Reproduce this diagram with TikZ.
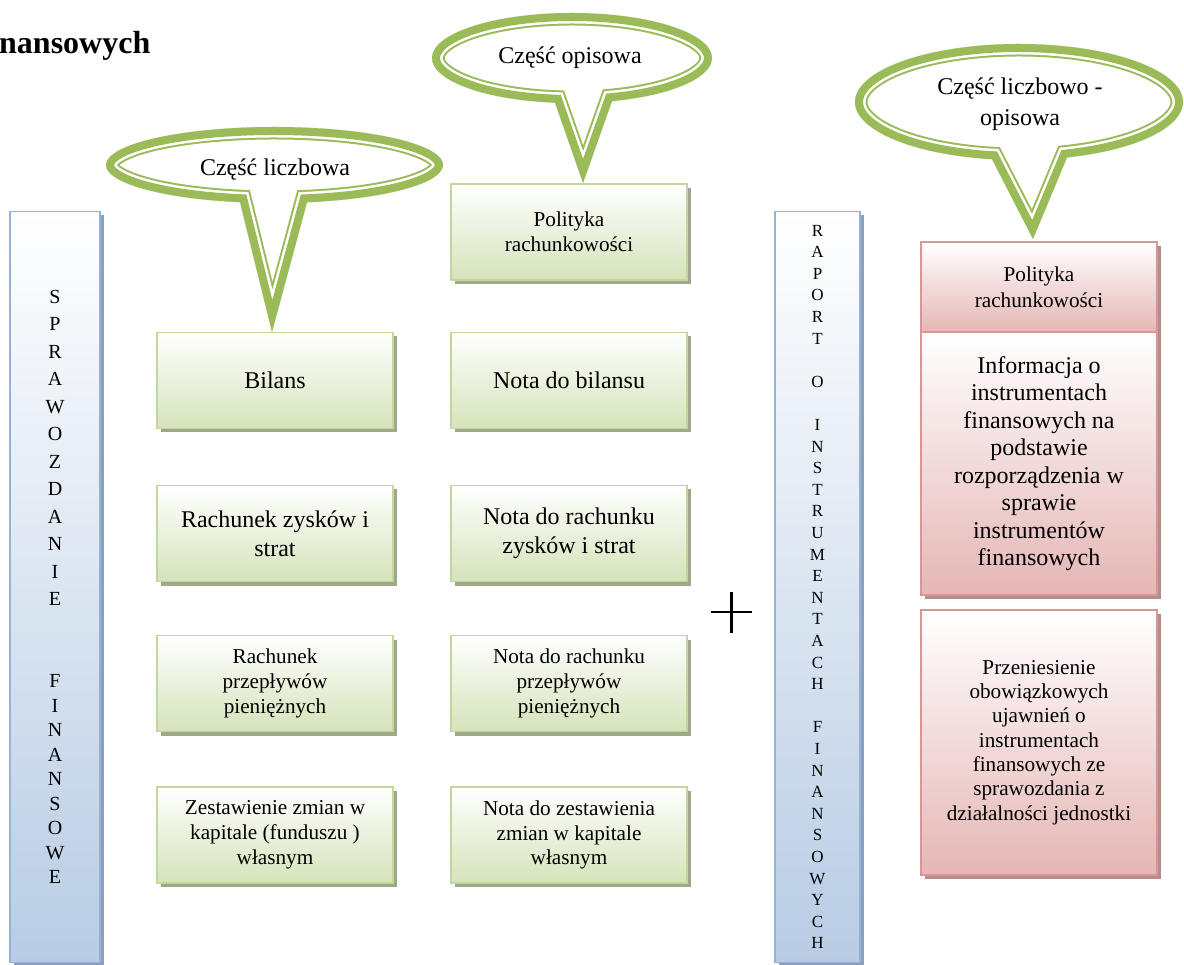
\documentclass[tikz,border=0pt]{standalone}
\usepackage{fontspec}
\setmainfont{Liberation Serif}
\usetikzlibrary{shadows}
\definecolor{cgreen}{RGB}{155,187,89}
\definecolor{gborder}{RGB}{195,214,155}
\definecolor{gbottom}{RGB}{213,227,186}
\definecolor{gshadow}{RGB}{160,168,140}
\definecolor{rborder}{RGB}{217,150,148}
\definecolor{rbottom}{RGB}{229,182,181}
\definecolor{rshadow}{RGB}{178,143,143}
\definecolor{bborder}{RGB}{149,179,215}
\definecolor{bbottom}{RGB}{184,204,228}
\definecolor{bshadow}{RGB}{140,160,190}
\newcommand\mycallout[8]{%
  \pgfmathsetmacro\cta{acos((#5-#1)/#3)}%
  \pgfmathsetmacro\ctb{acos((#6-#1)/#3)+360}%
  \def\cpath{(#1,#2) ++(\cta:#3 and #4) arc[start angle=\cta, end angle=\ctb, x radius=#3, y radius=#4] -- (#7,#8) -- cycle}%
  \fill[white] \cpath;
  \begin{scope}
    \clip \cpath;
    \draw[cgreen, line width=25pt, line join=miter] \cpath;
    \draw[white, line width=21pt, line join=miter] \cpath;
    \draw[cgreen, line width=16pt, line join=miter] \cpath;
  \end{scope}
}
\tikzset{
  box/.style={rectangle, line width=1.5pt, inner sep=0pt, align=center,
    minimum width=236pt},
  gbox/.style={box, draw=gborder, top color=white, bottom color=gbottom,
    minimum height=96pt,
    drop shadow={shadow xshift=4pt, shadow yshift=-4pt, fill=gshadow, opacity=1}},
  rbox/.style={box, draw=rborder, top color=white, bottom color=rbottom,
    drop shadow={shadow xshift=4pt, shadow yshift=-4pt, fill=rshadow, opacity=1}},
  bbar/.style={rectangle, line width=1.5pt, inner sep=0pt, align=center,
    draw=bborder, top color=white, bottom color=bbottom, minimum height=751pt,
    drop shadow={shadow xshift=4pt, shadow yshift=-4pt, fill=bshadow, opacity=1}},
  big/.style={font=\fontsize{24}{29}\selectfont},
  small/.style={font=\fontsize{21.2}{25}\selectfont},
  ctext/.style={align=center, inner sep=0pt, font=\fontsize{24}{31.5}\selectfont},
}
\begin{document}
\begin{tikzpicture}[x=1pt, y=-1pt]
\useasboundingbox (0,0) rectangle (1184,965);
\fill[white] (0,0) rectangle (1184,965);

% title fragment
\node[anchor=base west, inner sep=0pt, font=\bfseries\fontsize{32}{34}\selectfont] (title) at (-1,54) {nansowych};

% vertical bars
\node[bbar, minimum width=90pt, font=\fontsize{20}{24.5}\selectfont] (lbar) at (55,587)
  {S\\[3pt]P\\[3pt]R\\[3pt]A\\[3pt]W\\[3pt]O\\[3pt]Z\\[3pt]D\\[3pt]A\\[3pt]N\\[3pt]I\\[3pt]E\\[57.5pt]F\\I\\N\\A\\N\\S\\O\\W\\E};
\node[bbar, minimum width=85pt, font=\fontsize{17}{21.6}\selectfont] (rbar) at (817.5,587)
  {R\\A\\P\\O\\R\\T\\[21.6pt]O\\[21.6pt]I\\N\\S\\T\\R\\U\\M\\E\\N\\T\\A\\C\\H\\[21.6pt]F\\I\\N\\A\\N\\S\\O\\W\\Y\\C\\H};

% green boxes
\node[gbox, small] (g0) at (569,232) {Polityka\\rachunkowości};
\node[gbox, big] (g1) at (275,380.5) {Bilans};
\node[gbox, big] (n1) at (569,380.5) {Nota do bilansu};
\node[gbox, big] (g2) at (275,533.5) {Rachunek zysków i\\strat};
\node[gbox, big] (n2) at (569,533.5) {Nota do rachunku\\zysków i strat};
\node[gbox, small] (g3) at (275,683.5) {Rachunek\\przepływów\\pieniężnych};
\node[gbox, small] (n3) at (569,683.5) {Nota do rachunku\\przepływów\\pieniężnych};
\node[gbox, small] (g4) at (275,835) {Zestawienie zmian w\\kapitale (funduszu )\\własnym};
\node[gbox, small, font=\fontsize{21.2}{24.7}\selectfont] (n4) at (569,835) {Nota do zestawienia\\zmian w kapitale\\własnym};

% red boxes
\node[rbox, minimum height=90pt, font=\fontsize{21.2}{26}\selectfont] (r1) at (1039,287) {Polityka\\rachunkowości};
\node[rbox, minimum height=263pt, font=\fontsize{24}{27.5}\selectfont] (r2) at (1039,463.5)
  {Informacja o\\instrumentach\\finansowych na\\podstawie\\rozporządzenia w\\sprawie\\instrumentów\\finansowych};
\node[rbox, minimum height=265pt, font=\fontsize{21.2}{24.3}\selectfont] (r3) at (1039,742.5)
  {Przeniesienie\\obowiązkowych\\ujawnień o\\instrumentach\\finansowych ze\\sprawozdania z\\działalności jednostki};

% plus sign
\draw[line width=2.5pt] (711,612) -- (752,612) (731.5,592) -- (731.5,633);

% callouts
\mycallout{274.5}{165}{168.5}{38}{240}{307}{272}{332}
\node[ctext] (c1) at (275,170) {Część liczbowa};
\mycallout{572}{58}{140}{45}{555}{612}{583}{183}
\node[ctext] (c2) at (570,58) {Część opisowa};
\mycallout{1019}{102}{164}{58}{992}{1067}{1033}{239}
\node[ctext] (c3) at (1020,104) {Część liczbowo -\\opisowa};
\end{tikzpicture}
\end{document}
